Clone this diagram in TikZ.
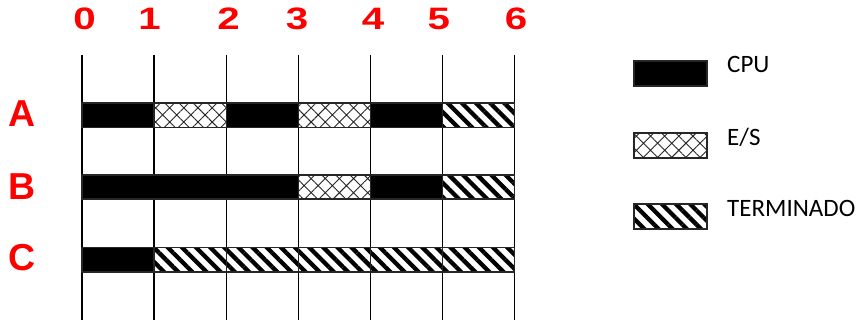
\documentclass[tikz,border=0pt]{standalone}
\usepackage{fontspec}
\setmainfont{Liberation Sans}
\newfontfamily\legendfont{Carlito}
\newfontfamily\tickfont{Liberation Sans}[FakeStretch=1.3]
\usetikzlibrary{patterns.meta}
\begin{document}
\begin{tikzpicture}[x=1pt,y=-1pt,
  tick/.style={text=red, font=\tickfont\fontsize{31}{31}\selectfont\bfseries, inner sep=0pt},
  rowlbl/.style={text=red, font=\fontsize{37.5}{37.5}\selectfont\bfseries, inner sep=0pt},
  grid/.style={line width=1.4pt, black},
  cpu/.style={fill=black, draw=black!85, line width=1.2pt},
  es/.style={draw=black!85, line width=1.2pt, pattern={Hatch[angle=45,distance=10pt,line width=0.9pt]}, pattern color=black!85},
  term/.style={draw=black!85, line width=1.2pt, pattern={Lines[angle=-45,distance=10pt,line width=4.3pt]}, pattern color=black},
  legtxt/.style={font=\legendfont\fontsize{25}{25}\selectfont, anchor=base west, inner sep=0pt}]
\useasboundingbox (0,0) rectangle (864,320);
% grid lines
\foreach \x in {82,154,226.5,298.5,370.5,442.5,514.5}
  \draw[grid] (\x,55) -- (\x,320);
% time ticks
\node[tick] (t0) at (84.5,18.5) {0};
\node[tick] (t1) at (149.7,18.5) {1};
\node[tick] (t2) at (228.7,18.5) {2};
\node[tick] (t3) at (297,18.5) {3};
\node[tick] (t4) at (373,18.5) {4};
\node[tick] (t5) at (438.8,18.5) {5};
\node[tick] (t6) at (516,18.5) {6};
% row labels
\node[rowlbl] (A) at (22,113.7) {A};
\node[rowlbl] (B) at (22.5,186.3) {B};
\node[rowlbl] (C) at (22.5,258) {C};
% row A
\draw[cpu]  (82,103) rectangle (154,127.5);
\draw[es]   (154,103) rectangle (226.5,127.5);
\draw[cpu]  (226.5,103) rectangle (298.5,127.5);
\draw[es]   (298.5,103) rectangle (370.5,127.5);
\draw[cpu]  (370.5,103) rectangle (442.5,127.5);
\draw[term] (442.5,103) rectangle (514.5,127.5);
% row B
\draw[cpu]  (82,175) rectangle (298.5,199);
\draw[es]   (298.5,175) rectangle (370.5,199);
\draw[cpu]  (370.5,175) rectangle (442.5,199);
\draw[term] (442.5,175) rectangle (514.5,199);
% row C
\draw[cpu]  (82,247.5) rectangle (154,272);
\draw[term] (154,247.5) rectangle (226.5,272);
\draw[term] (226.5,247.5) rectangle (298.5,272);
\draw[term] (298.5,247.5) rectangle (370.5,272);
\draw[term] (370.5,247.5) rectangle (442.5,272);
\draw[term] (442.5,247.5) rectangle (514.5,272);
% legend
\draw[cpu]  (634,61) rectangle (707,86);
\draw[es]   (634,133) rectangle (707,158);
\draw[term] (634,204) rectangle (707,229);
\node[legtxt] (lcpu) at (727,72.5) {CPU};
\node[legtxt] (les) at (727,146) {E/S};
\node[legtxt] (lterm) at (727,216.5) {TERMINADO};
\end{tikzpicture}
\end{document}
